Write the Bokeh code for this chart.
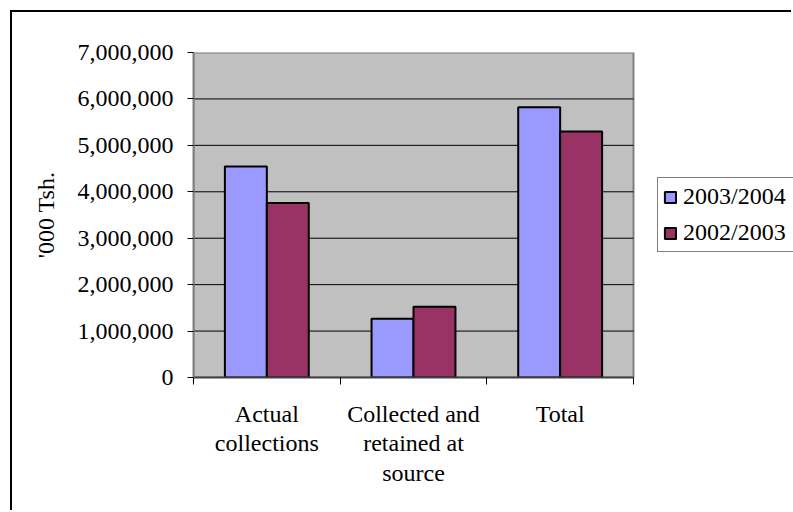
from bokeh.plotting import figure
from bokeh.models import (ColumnDataSource, FixedTicker, NumeralTickFormatter,
                          LinearAxis, Legend, LegendItem, Range1d)
from bokeh.embed import file_html
from bokeh.resources import INLINE
from bokeh.transform import dodge

# ---- data ----
categories = ["Actual\ncollections", "Collected and\nretained at\nsource", "Total"]
series_names = ["2003/2004", "2002/2003"]
values_2003_2004 = [4545000, 1265000, 5820000]
values_2002_2003 = [3756000, 1524000, 5300000]
y_ticks = [0, 1000000, 2000000, 3000000, 4000000, 5000000, 6000000, 7000000]
colors = ["#9999FF", "#993366"]

FONT = "Liberation Serif"
FS = "24px"

n = len(categories)
pos = [i + 0.5 for i in range(n)]
src = ColumnDataSource(dict(pos=pos, cat=categories,
                            a=values_2003_2004, b=values_2002_2003))

# frame spans to the right canvas edge; the grey plot area covers x in [0, n]
FRAME_W = 600.0
AREA_W = 440.0
p = figure(width=781, height=500, output_backend="svg", toolbar_location=None,
           x_range=Range1d(0, n * FRAME_W / AREA_W), y_range=Range1d(0, y_ticks[-1]),
           min_border_left=181, min_border_right=0, min_border_top=40,
           min_border_bottom=135)
p.styles = {"margin-left": "10px", "margin-top": "10px",
            "border-left": "2px solid black", "border-top": "2px solid black"}

p.background_fill_color = "white"
p.border_fill_color = "white"
p.outline_line_color = None

# grey plot area
p.quad(left=[0], right=[n], bottom=[y_ticks[0]], top=[y_ticks[-1]],
       fill_color="#C0C0C0", line_color="#808080", line_width=2)

# horizontal grid lines inside the plot area
inner = y_ticks[1:-1]
p.segment(x0=[0] * len(inner), x1=[n] * len(inner), y0=inner, y1=inner,
          line_color="black", line_width=1)

bw = 0.286
r1 = p.vbar(x=dodge("pos", -bw / 2, range=p.x_range), top="a", width=bw, source=src,
            fill_color=colors[0], line_color="black", line_width=2)
r2 = p.vbar(x=dodge("pos", bw / 2, range=p.x_range), top="b", width=bw, source=src,
            fill_color=colors[1], line_color="black", line_width=2)

p.xgrid.visible = False
p.ygrid.visible = False

# y axis
ya = p.yaxis[0]
ya.ticker = FixedTicker(ticks=y_ticks)
ya.formatter = NumeralTickFormatter(format="0,0")
ya.major_label_text_font = FONT
ya.major_label_text_font_size = FS
ya.major_label_text_color = "black"
ya.major_tick_out = 6
ya.major_tick_in = 0
ya.minor_tick_out = 0
ya.minor_tick_in = 0
ya.major_label_standoff = 14
ya.axis_line_color = "#808080"
ya.axis_line_width = 2
ya.major_tick_line_color = "black"
ya.axis_label = "'000 Tsh."
ya.axis_label_text_font = FONT
ya.axis_label_text_font_size = FS
ya.axis_label_text_font_style = "normal"
ya.axis_label_text_color = "black"
ya.axis_label_standoff = 16

# x axis: ticks at category boundaries
xa = p.xaxis[0]
xa.bounds = (0, n)
xa.ticker = FixedTicker(ticks=list(range(n + 1)))
xa.major_label_overrides = {i: "" for i in range(n + 1)}
xa.major_label_text_font_size = "0px"
xa.major_label_standoff = 0
xa.major_tick_out = 7
xa.major_tick_in = 0
xa.minor_tick_out = 0
xa.minor_tick_in = 0
xa.axis_line_color = "#404040"
xa.axis_line_width = 2
xa.major_tick_line_color = "black"

# x axis: category labels
xl = LinearAxis(ticker=FixedTicker(ticks=pos),
                major_label_overrides={pp: c for pp, c in zip(pos, categories)})
xl.axis_line_color = None
xl.major_tick_line_color = None
xl.minor_tick_line_color = None
xl.major_tick_out = 0
xl.major_label_standoff = 16
xl.major_label_text_font = FONT
xl.major_label_text_font_size = FS
xl.major_label_text_line_height = 1.15
xl.major_label_text_color = "black"
p.add_layout(xl, "below")

legend = Legend(items=[LegendItem(label=series_names[0], renderers=[r1]),
                       LegendItem(label=series_names[1], renderers=[r2])],
                location=(464, 125))
legend.label_text_font = FONT
legend.label_text_font_size = FS
legend.label_text_color = "black"
legend.glyph_width = 14
legend.glyph_height = 14
legend.padding = 5
legend.spacing = 9
legend.label_standoff = 6
legend.label_width = 140
legend.margin = 0
legend.border_line_color = "black"
legend.border_line_width = 1
legend.background_fill_color = "white"
p.add_layout(legend, "center")

open("out.html", "w").write(file_html(p, INLINE))
